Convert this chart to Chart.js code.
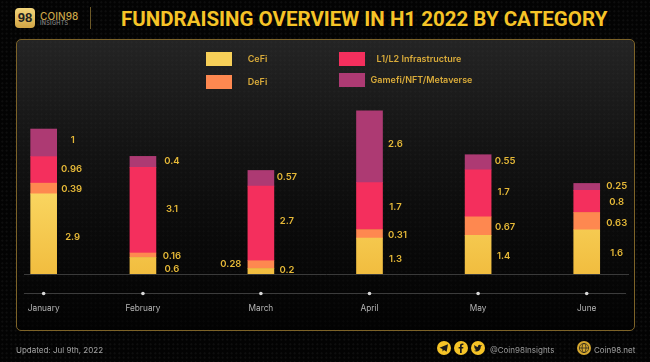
<!DOCTYPE html>
<html>
<head>
<meta charset="utf-8">
<title>Fundraising overview</title>
<script src="https://cdn.jsdelivr.net/npm/chart.js@4"></script>
<style>
html,body{margin:0;padding:0;background:#000;}
#page{position:relative;width:650px;height:362px;overflow:hidden;font-family:Inter,sans-serif;
background:radial-gradient(rgba(255,255,255,.055) .8px,transparent 1.2px) 0 0/4.5px 4.5px,#030303;}
#panel{position:absolute;left:16px;top:39px;width:619px;height:292px;box-sizing:border-box;border:1px solid #7d6328;border-radius:5px;
background:radial-gradient(rgba(255,255,255,.025) .8px,transparent 1.2px) 0 0/4.5px 4.5px,linear-gradient(#242424 0,#141414 35%,#0a0a0a 65%,#020202 100%);}
canvas{position:absolute;left:0;top:0;}
.t{position:absolute;white-space:nowrap;line-height:1;}
#logo{position:absolute;left:15px;top:8px;width:20px;height:20px;border-radius:4px;background:linear-gradient(#f3d67c,#d2a545);color:#222;font:700 13px/20px "Liberation Sans",sans-serif;text-align:center;}
#rule{position:absolute;left:90px;top:7px;width:1px;height:22px;background:#6e5a28;}
.ic{position:absolute;top:341px;width:14px;height:14px;}
</style>
</head>
<body>
<div id="page">
<div id="panel"></div>
<div id="logo">98</div>
<div class="t" style="left:40px;top:10px;font:500 10px Inter,sans-serif;color:#c9a548;letter-spacing:.1px">COIN98</div>
<div class="t" style="left:40px;top:20px;font:500 5.500px Inter,sans-serif;color:#8b8b8b;letter-spacing:.3px">INSIGHTS</div>
<div id="rule"></div>
<div class="t" style="left:121px;top:7px;font:700 20.500px Roboto,sans-serif;color:#f6c427">FUNDRAISING OVERVIEW IN H1 2022 BY CATEGORY</div>
<canvas id="chart" width="650" height="362"></canvas>
<div class="t" style="left:16px;top:345px;font:400 8px Inter,sans-serif;color:#a5a5a5">Updated: Jul 9th, 2022</div>
<svg class="ic" style="left:437px" viewBox="0 0 14 14"><circle cx="7" cy="7" r="7" fill="#f6c427"/><path d="M2.5 6.8 11 3.2 9.6 10.8 7 9 5.6 10.4 5.4 8z" fill="#1a1a1a"/></svg>
<svg class="ic" style="left:454px" viewBox="0 0 14 14"><circle cx="7" cy="7" r="7" fill="#f6c427"/><path d="M7.7 12V7.6h1.5l.2-1.7H7.7V4.8c0-.5.2-.8.8-.8h.9V2.5H8.2C6.9 2.5 6 3.3 6 4.6v1.3H4.6v1.7H6V12z" fill="#1a1a1a"/></svg>
<svg class="ic" style="left:471px" viewBox="0 0 14 14"><circle cx="7" cy="7" r="7" fill="#f6c427"/><path d="M11.2 4.6c-.3.1-.6.2-1 .3.4-.2.6-.5.7-.9-.3.2-.7.3-1.1.4a1.7 1.7 0 0 0-2.9 1.5C5.500 5.800 4.300 5.200 3.400 4.100c-.4.800-.2 1.700.5 2.200-.3 0-.5-.1-.7-.2 0 .8.500 1.500 1.300 1.700-.2.100-.5.100-.7 0 .2.700.9 1.100 1.600 1.200-.7.500-1.500.8-2.500.7 2.800 1.700 6.900.3 6.900-4.300.3-.2.600-.5.800-.8z" fill="#1a1a1a"/></svg>
<div class="t" style="left:490px;top:345px;font:400 8px Inter,sans-serif;color:#9c9c9c">@Coin98Insights</div>
<svg class="ic" style="left:577px" viewBox="0 0 14 14"><circle cx="7" cy="7" r="7" fill="#d8a92f"/><circle cx="7" cy="7" r="4.6" fill="none" stroke="#1a1a1a" stroke-width=".7"/><ellipse cx="7" cy="7" rx="2" ry="4.600" fill="none" stroke="#1a1a1a" stroke-width=".7"/><path d="M2.400 7h9.200" stroke="#1a1a1a" stroke-width=".7"/></svg>
<div class="t" style="left:594px;top:344.500px;font:400 8px Inter,sans-serif;color:#a5a5a5">Coin98.net</div>
</div>
<script>
/* Data */
const months=["January","February","March","April","May","June"];
const cefi=[2.9,0.6,0.2,1.3,1.4,1.6];
const defi=[0.39,0.16,0.28,0.31,0.67,0.63];
const infra=[0.96,3.1,2.7,1.7,1.7,0.8];
const gamefi=[1,0.4,0.57,2.6,0.55,0.25];

/* Month spacing on the x scale (February sits a bit left of the even grid) */
const monthSlots=[0,0.914,2,3,4,5];

/* Value label nudges from segment centre: [dx,dy] per month */
const cefiNudge=[[29,3],[29,3],[26,-1],[26,3],[25.5,1],[30,1]];
const defiNudge=[[28,1],[29,1],[-30,0],[28,1],[27,1],[30,2]];
const infraNudge=[[28,-1],[29,-1.5],[26,-2.5],[26,1],[25.5,-1.5],[30,1]];
const gamefiNudge=[[29,-3],[29,-1],[26,-1],[26,-3],[27,-1],[30,-1]];

function points(values){
return values.map((v,i)=>({x:monthSlots[i],y:v}));
}

function cefiFill(context){
const area=context.chart.chartArea;
if(!area) return "#f5c94f";
const g=context.chart.ctx.createLinearGradient(0,190,0,area.bottom);
g.addColorStop(0,"#fad661");
g.addColorStop(1,"#f1bd3f");
return g;
}

/* Value labels, timeline and legend */
const decorPlugin={
id:"decor",
afterDatasetsDraw(chart){
const ctx=chart.ctx;
const x=chart.scales.x;

ctx.save();
ctx.textAlign="center";
ctx.textBaseline="middle";
ctx.font="600 9.5px Inter,sans-serif";
ctx.fillStyle="#e6b938";

chart.data.datasets.forEach((ds,d)=>{
chart.getDatasetMeta(d).data.forEach((bar,i)=>{
const n=ds.labelNudge[i];
ctx.fillText(String(ds.data[i].y),bar.x+n[0],(bar.y+bar.base)/2+n[1]);
});
});

/* timeline under the bars */
ctx.strokeStyle="#3c3c3c";
ctx.lineWidth=1;
ctx.beginPath();
ctx.moveTo(24,293.5);
ctx.lineTo(626,293.5);
ctx.stroke();
ctx.fillStyle="#d8d8d8";
monthSlots.forEach(s=>{
ctx.beginPath();
ctx.arc(x.getPixelForValue(s),293.5,1.8,0,Math.PI*2);
ctx.fill();
});

/* legend */
const legend=[
{i:0,sx:206,sy:52,tx:257.5,ty:59.5},
{i:1,sx:206,sy:75,tx:257.5,ty:82.5},
{i:2,sx:339,sy:52,tx:419,ty:59.5},
{i:3,sx:339,sy:73,tx:421.5,ty:80.5}
];
ctx.font="600 9px Inter,sans-serif";
legend.forEach(l=>{
const ds=chart.data.datasets[l.i];
ctx.fillStyle=ds.legendColor;
ctx.fillRect(l.sx,l.sy,26,14);
ctx.fillStyle="#d9ab3a";
ctx.fillText(ds.label,l.tx,l.ty);
});
ctx.restore();
}
};

const chart=new Chart(document.getElementById("chart"),{
type:"bar",
data:{
datasets:[
{label:"CeFi",data:points(cefi),backgroundColor:cefiFill,legendColor:"#f7cf58",labelNudge:cefiNudge},
{label:"DeFi",data:points(defi),backgroundColor:"#fe8850",legendColor:"#fe8850",labelNudge:defiNudge},
{label:"L1/L2 Infrastructure",data:points(infra),backgroundColor:"#f42f5d",legendColor:"#f42f5d",labelNudge:infraNudge},
{label:"Gamefi/NFT/Metaverse",data:points(gamefi),backgroundColor:"#ad3a73",legendColor:"#ad3a73",labelNudge:gamefiNudge}
]
},
options:{
responsive:false,
animation:false,
devicePixelRatio:1,
layout:{padding:{left:24,right:22,top:60,bottom:0}},
datasets:{bar:{barThickness:26,stack:"all"}},
plugins:{legend:{display:false},tooltip:{enabled:false}},
scales:{
x:{
type:"linear",
stacked:true,
offset:false,
min:-0.181,
max:5.38,
grid:{display:false},
border:{color:"#3a3a3a",width:1},
afterBuildTicks(scale){
scale.ticks=monthSlots.map(v=>({value:v}));
},
afterFit(scale){
scale.height=88;
scale.paddingLeft=0;
scale.paddingRight=0;
},
ticks:{
autoSkip:false,
maxRotation:0,
padding:22,
color:"#b5b5b5",
font:{family:"Inter,sans-serif",size:8.3},
callback:function(value){
return months[monthSlots.indexOf(value)];
}
}
},
y:{
display:false,
stacked:true,
min:0,
max:7.75
}
}
},
plugins:[decorPlugin]
});
</script>
</body>
</html>
